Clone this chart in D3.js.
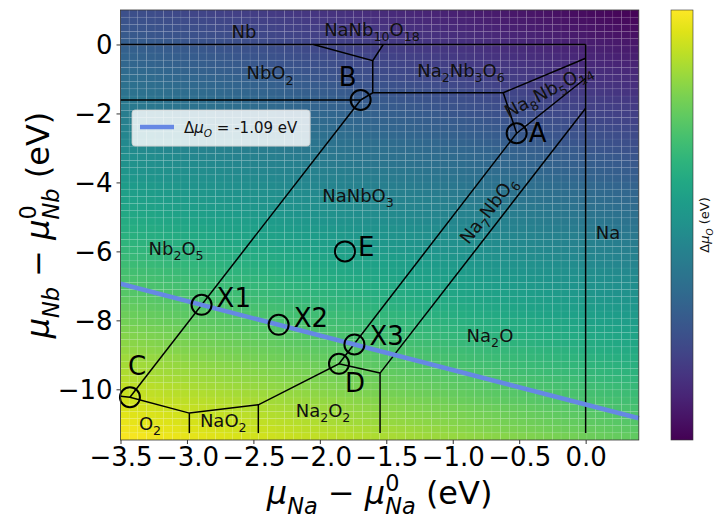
<!DOCTYPE html>
<html>
<head>
<meta charset="utf-8">
<script src="https://cdn.jsdelivr.net/npm/d3@7"></script>
<style>
  body { margin: 0; background: #fff; }
  svg { font-family: "DejaVu Sans", sans-serif; }
</style>
</head>
<body>
<div class="wrapper"></div>
<script>
// chemical potential window (eV)
const x_domain = [-3.5, 0.4];
const y_domain = [-11.47, 1.0];
const x_ticks = [-3.5, -3.0, -2.5, -2.0, -1.5, -1.0, -0.5, 0.0];
const y_ticks = [0, -2, -4, -6, -8, -10];

// formation enthalpy of NaNbO3 used for the colour field, and the chosen O potential
const dH_NaNbO3 = -13.71;
const dmu_O = -1.09;
const n_cells = 60;

// phase boundaries, each one a polyline of [dmu_Na, dmu_Nb]
const boundaries = [
  [[-3.5, 0], [0, 0]],
  [[0, 0], [0, -11.27]],
  [[-2.049, 0], [-1.602, -0.47], [-1.523, 0]],
  [[-1.602, -0.47], [-1.602, -1.40]],
  [[-3.5, -1.61], [-1.693, -1.61]],
  [[-1.693, -1.61], [-1.602, -1.40], [-0.620, -1.40], [0, -0.40]],
  [[-0.620, -1.40], [-0.519, -2.574], [0, -0.98]],
  [[-3.429, -10.23], [-1.693, -1.61]],
  [[-1.856, -9.26], [-0.519, -2.574]],
  [[-1.547, -9.53], [0, -1.85]],
  [[-3.5, -10.2], [-3.429, -10.23], [-2.982, -10.69], [-2.463, -10.45], [-1.856, -9.26], [-1.547, -9.53]],
  [[-2.982, -10.69], [-2.982, -11.27]],
  [[-2.463, -10.45], [-2.463, -11.27]],
  [[-1.547, -9.53], [-1.547, -11.27]]
];

// marked points
const point_names = ["A", "B", "C", "D", "E", "X1", "X2", "X3"];
const point_x = [-0.519, -1.693, -3.429, -1.856, -1.811, -2.89, -2.31, -1.74];
const point_y = [-2.574, -1.61, -10.23, -9.26, -6.0, -7.55, -8.13, -8.70];

// phase labels
const phase_names = ["Nb", "NaNb_{10}O_{18}", "NbO_{2}", "Na_{2}Nb_{3}O_{6}", "Na_{8}Nb_{5}O_{14}",
  "NaNbO_{3}", "Na_{7}NbO_{6}", "Nb_{2}O_{5}", "Na", "Na_{2}O", "O_{2}", "NaO_{2}", "Na_{2}O_{2}"];
const phase_x = [-2.571, -1.608, -2.375, -0.938, -0.26, -1.713, -0.697, -3.082, 0.168, -0.72, -3.278, -2.727, -1.976];
const phase_y = [0.36, 0.42, -0.83, -0.77, -1.32, -4.39, -4.74, -5.93, -5.46, -8.45, -11.0, -10.91, -10.62];
const phase_rot = [0, 0, 0, 0, -28, 0, -52, 0, 0, 0, 0, 0, 0];

const width = 714, height = 517;
const plot = { left: 120.5, right: 638.8, top: 10, bottom: 440 };

const svg = d3.select(".wrapper").append("svg")
  .attr("width", width)
  .attr("height", height);

const x = d3.scaleLinear().domain(x_domain).range([plot.left, plot.right]);
const y = d3.scaleLinear().domain(y_domain).range([plot.bottom, plot.top]);

const mu_O = (a, b) => (dH_NaNbO3 - a - b) / 3;
const corners = [mu_O(x_domain[1], y_domain[1]), mu_O(x_domain[0], y_domain[0])];
const color = d3.scaleSequential(d3.interpolateViridis).domain(corners);

// helper for chemical formulas with _{} and ^{}
function rich(sel, str, size) {
  let shift = 0;
  str.split(/(_\{[^}]*\}|\^\{[^}]*\})/).filter((s) => s.length).forEach((tok) => {
    let t = tok, target = 0, fs = size;
    if (tok.startsWith("_{")) { t = tok.slice(2, -1); target = 0.3 * size; fs = size * 0.7; }
    if (tok.startsWith("^{")) { t = tok.slice(2, -1); target = -0.4 * size; fs = size * 0.7; }
    sel.append("tspan").attr("dy", target - shift).attr("font-size", fs).text(t);
    shift = target;
  });
}

////////////////////////////
////// COLOUR FIELD ////////
////////////////////////////

const cw = (x_domain[1] - x_domain[0]) / n_cells;
const ch = (y_domain[1] - y_domain[0]) / n_cells;
const cells = [];
for (let i = 0; i < n_cells; i++) {
  for (let j = 0; j < n_cells; j++) {
    const a = x_domain[0] + i * cw, b = y_domain[0] + j * ch;
    cells.push({ a: a, b: b, v: mu_O(a + cw / 2, b + ch / 2) });
  }
}

svg.append("g").selectAll("rect")
  .data(cells)
  .enter()
  .append("rect")
  .attr("x", (d) => x(d.a))
  .attr("y", (d) => y(d.b + ch))
  .attr("width", x(x_domain[0] + cw) - x(x_domain[0]))
  .attr("height", y(y_domain[0]) - y(y_domain[0] + ch))
  .attr("fill", (d) => color(d.v))
  .attr("stroke", "rgba(255,255,255,0.1)")
  .attr("stroke-width", 0.6);

////////////////////////////
////// BOUNDARIES //////////
////////////////////////////

const line = d3.line().x((d) => x(d[0])).y((d) => y(d[1]));

svg.append("g").selectAll("path")
  .data(boundaries)
  .enter()
  .append("path")
  .attr("d", line)
  .attr("fill", "none")
  .attr("stroke", "#000")
  .attr("stroke-width", 1.5);

// constant O potential line
const o_line = x_domain.map((a) => [a, dH_NaNbO3 - 3 * dmu_O - a]);
svg.append("path")
  .attr("d", line(o_line))
  .attr("fill", "none")
  .attr("stroke", "#6688e4")
  .attr("stroke-width", 4.5);

// phase labels
phase_names.forEach((name, i) => {
  const t = svg.append("text")
    .attr("text-anchor", "middle")
    .attr("transform", "translate(" + x(phase_x[i]) + "," + (y(phase_y[i]) + 6) + ") rotate(" + phase_rot[i] + ")")
    .attr("fill", "#111")
    .style("font-size", "18px");
  rich(t, name, 18);
});

// marked points
const label_dx = [12, -22, -2, 6, 13, 15, 15, 15];
const label_dy = [9, -14, -22, 28, 5, 2, 2, 1];

const pts = svg.append("g").selectAll("g")
  .data(point_names)
  .enter()
  .append("g")
  .attr("transform", (d, i) => "translate(" + x(point_x[i]) + "," + y(point_y[i]) + ")");

pts.append("circle")
  .attr("r", 10)
  .attr("fill", "none")
  .attr("stroke", "#000")
  .attr("stroke-width", 2);

pts.append("text")
  .attr("x", (d, i) => label_dx[i])
  .attr("y", (d, i) => label_dy[i])
  .style("font-size", "26px")
  .attr("fill", "#000")
  .text((d) => d);

// frame
svg.append("rect")
  .attr("x", plot.left)
  .attr("y", plot.top)
  .attr("width", plot.right - plot.left)
  .attr("height", plot.bottom - plot.top)
  .attr("fill", "none")
  .attr("stroke", "#333")
  .attr("stroke-width", 0.8);

////////////////////////////
////// AXES ////////////////
////////////////////////////

const xAxis = svg.append("g")
  .attr("transform", "translate(0," + plot.bottom + ")")
  .call(d3.axisBottom(x).tickValues(x_ticks).tickFormat(d3.format(".1f")).tickSize(4).tickPadding(4));
const yAxis = svg.append("g")
  .attr("transform", "translate(" + plot.left + ",0)")
  .call(d3.axisLeft(y).tickValues(y_ticks).tickFormat(d3.format("d")).tickSize(4).tickPadding(4));

[xAxis, yAxis].forEach((g) => {
  g.select(".domain").remove();
  g.selectAll("text").style("font-size", "26px").attr("fill", "#000").style("font-family", "DejaVu Sans");
  g.selectAll("line").attr("stroke", "#333");
});
yAxis.selectAll("text").attr("dy", "0.36em");

// axis titles
function axis_title(t, sub, fs) {
  t.style("font-size", fs + "px");
  t.append("tspan").style("font-style", "italic").text("μ");
  t.append("tspan").style("font-style", "italic").attr("font-size", fs * 0.7).attr("dy", 0.3 * fs).text(sub);
  t.append("tspan").attr("dy", -0.3 * fs).text(" − ");
  t.append("tspan").style("font-style", "italic").text("μ");
  t.append("tspan").attr("font-size", fs * 0.7).attr("dy", -0.42 * fs).text("0");
  t.append("tspan").style("font-style", "italic").attr("font-size", fs * 0.7)
    .attr("dx", -0.636 * fs * 0.7).attr("dy", 0.72 * fs).text(sub);
  t.append("tspan").attr("dy", -0.3 * fs).text(" (eV)");
}

axis_title(svg.append("text").attr("text-anchor", "middle").attr("x", (plot.left + plot.right) / 2).attr("y", 504), "Na", 32);
axis_title(svg.append("text").attr("text-anchor", "middle").attr("transform", "translate(49," + ((plot.top + plot.bottom) / 2) + ") rotate(-90)"), "Nb", 32);

////////////////////////////
////// LEGEND //////////////
////////////////////////////

const legend = svg.append("g").attr("transform", "translate(132,110)");
legend.append("rect")
  .attr("width", 178).attr("height", 36).attr("rx", 3)
  .attr("fill", "rgba(255,255,255,0.82)")
  .attr("stroke", "#ccc").attr("stroke-width", 0.8);
legend.append("line")
  .attr("x1", 8).attr("x2", 42).attr("y1", 17).attr("y2", 17)
  .attr("stroke", "#6688e4").attr("stroke-width", 4.5);
const lt = legend.append("text").attr("x", 52).attr("y", 23).style("font-size", "15px").attr("fill", "#111");
lt.append("tspan").text("Δ");
lt.append("tspan").style("font-style", "italic").text("μ");
lt.append("tspan").style("font-style", "italic").attr("font-size", 10.5).attr("dy", 4).text("O");
lt.append("tspan").attr("dy", -4).text(" = -1.09 eV");

////////////////////////////
////// COLOURBAR ///////////
////////////////////////////

const defs = svg.append("defs");
const grad = defs.append("linearGradient").attr("id", "cbar")
  .attr("x1", 0).attr("y1", 1).attr("x2", 0).attr("y2", 0);
grad.selectAll("stop")
  .data(d3.range(0, 1.0001, 0.05))
  .enter()
  .append("stop")
  .attr("offset", (d) => d)
  .attr("stop-color", (d) => d3.interpolateViridis(d));

svg.append("rect")
  .attr("x", 671).attr("y", plot.top)
  .attr("width", 22).attr("height", plot.bottom - plot.top)
  .attr("fill", "url(#cbar)")
  .attr("stroke", "#333").attr("stroke-width", 0.6);

const cl = svg.append("text")
  .attr("text-anchor", "middle")
  .attr("transform", "translate(709," + ((plot.top + plot.bottom) / 2) + ") rotate(-90)")
  .style("font-size", "13px").attr("fill", "#111");
cl.append("tspan").text("Δ");
cl.append("tspan").style("font-style", "italic").text("μ");
cl.append("tspan").style("font-style", "italic").attr("font-size", 9).attr("dy", 3.5).text("O");
cl.append("tspan").attr("dy", -3.5).text(" (eV)");
</script>
</body>
</html>
